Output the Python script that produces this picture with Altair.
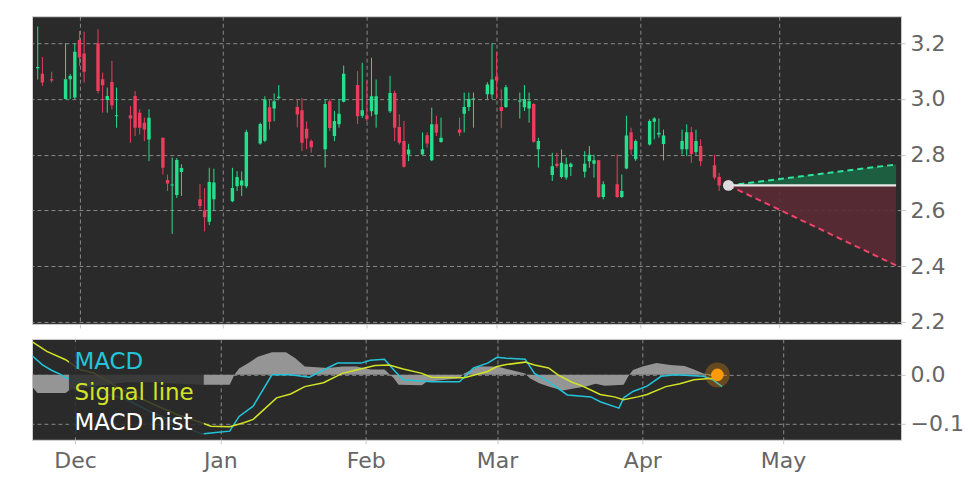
import altair as alt
import pandas as pd

# ---------------- data ----------------
dates = [
    "2022-11-22", "2022-11-23", "2022-11-25", "2022-11-28", "2022-11-29", "2022-11-30",
    "2022-12-01", "2022-12-02", "2022-12-05", "2022-12-06", "2022-12-07", "2022-12-08",
    "2022-12-09", "2022-12-12", "2022-12-13", "2022-12-14", "2022-12-15", "2022-12-16",
    "2022-12-19", "2022-12-20", "2022-12-21", "2022-12-22", "2022-12-23", "2022-12-27",
    "2022-12-28", "2022-12-29", "2022-12-30", "2023-01-03", "2023-01-04", "2023-01-05",
    "2023-01-06", "2023-01-09", "2023-01-10", "2023-01-11", "2023-01-12", "2023-01-13",
    "2023-01-17", "2023-01-18", "2023-01-19", "2023-01-20", "2023-01-23", "2023-01-24",
    "2023-01-25", "2023-01-26", "2023-01-27", "2023-01-30", "2023-01-31", "2023-02-01",
    "2023-02-02", "2023-02-03", "2023-02-06", "2023-02-07", "2023-02-08", "2023-02-09",
    "2023-02-10", "2023-02-13", "2023-02-14", "2023-02-15", "2023-02-16", "2023-02-17",
    "2023-02-21", "2023-02-22", "2023-02-23", "2023-02-24", "2023-02-27", "2023-02-28",
    "2023-03-01", "2023-03-02", "2023-03-03", "2023-03-06", "2023-03-07", "2023-03-08",
    "2023-03-09", "2023-03-10", "2023-03-13", "2023-03-14", "2023-03-15", "2023-03-16",
    "2023-03-17", "2023-03-20", "2023-03-21", "2023-03-22", "2023-03-23", "2023-03-24",
    "2023-03-27", "2023-03-28", "2023-03-29", "2023-03-30", "2023-03-31", "2023-04-03",
    "2023-04-04", "2023-04-05", "2023-04-06", "2023-04-10", "2023-04-11", "2023-04-12",
    "2023-04-13", "2023-04-14", "2023-04-17", "2023-04-18",
]
opens = [
    3.11, 3.091, 3.071, 3.0, 3.071, 3.005,
    3.212, 3.163, 3.2, 3.071, 2.996, 3.061,
    2.938, 2.942, 3.011, 2.951, 2.915, 2.855,
    2.861, 2.709, 2.69, 2.656, 2.738, 2.64,
    2.6, 2.56, 2.64, 2.633, 2.687, 2.69,
    2.687, 2.84, 2.85, 2.97, 2.966, 3.004,
    2.971, 2.96, 2.893, 2.849, 2.82, 2.992,
    2.867, 2.909, 2.99, 3.05, 2.94, 2.941,
    2.956, 2.944, 2.956, 3.022, 2.9, 2.849,
    2.801, 2.801, 2.87, 2.78, 2.909, 2.846,
    2.891, 2.947, 2.971, 2.998, 3.017, 3.016,
    3.081, 2.971, 2.971, 2.99, 2.97, 2.966,
    2.982, 2.82, 2.727, 2.768, 2.72, 2.718,
    2.756, 2.739, 2.777, 2.768, 2.78, 2.648,
    2.694, 2.648, 2.751, 2.881, 2.784, 2.837,
    2.918, 2.873, 2.839, 2.82, 2.82, 2.881,
    2.81, 2.831, 2.762, 2.72,
]
highs = [
    3.26, 3.151, 3.098, 3.2, 3.09, 3.2,
    3.244, 3.242, 3.25, 3.095, 3.041, 3.137,
    3.041, 2.975, 3.029, 2.963, 2.933, 2.963,
    2.861, 2.729, 2.79, 2.788, 2.766, 2.695,
    2.68, 2.753, 2.75, 2.753, 2.741, 2.74,
    2.89, 2.915, 3.01, 3.0, 3.02, 3.05,
    3.0, 3.004, 2.92, 2.855, 3.0, 3.0,
    2.957, 3.0, 3.12, 3.1, 3.13, 3.065,
    3.148, 3.07, 3.083, 3.03, 2.945, 2.921,
    2.839, 2.88, 2.88, 2.969, 2.94, 2.933,
    2.933, 3.023, 3.023, 3.023, 3.06, 3.2,
    3.17, 3.035, 3.05, 3.023, 3.05, 3.023,
    2.985, 2.861, 2.807, 2.807, 2.819, 2.79,
    2.772, 2.813, 2.831, 2.8, 2.782, 2.705,
    2.801, 2.729, 2.94, 2.897, 2.855, 2.927,
    2.935, 2.93, 2.89, 2.89, 2.909, 2.9,
    2.89, 2.855, 2.8, 2.735,
]
lows = [
    3.07, 3.047, 3.059, 3.0, 3.0, 3.0,
    3.119, 3.059, 3.02, 2.951, 2.951, 2.963,
    2.897, 2.843, 2.867, 2.873, 2.849, 2.777,
    2.729, 2.67, 2.516, 2.645, 2.652, 2.605,
    2.525, 2.548, 2.598, 2.63, 2.67, 2.652,
    2.68, 2.836, 2.845, 2.89, 2.92, 3.0,
    2.898, 2.813, 2.82, 2.807, 2.754, 2.885,
    2.849, 2.897, 2.988, 2.91, 2.932, 2.92,
    2.938, 2.897, 2.95, 2.849, 2.837, 2.754,
    2.777, 2.8, 2.825, 2.777, 2.867, 2.843,
    2.867, 2.88, 2.957, 2.897, 3.0, 3.0,
    3.0, 2.895, 2.968, 2.93, 2.957, 2.915,
    2.843, 2.754, 2.706, 2.753, 2.715, 2.71,
    2.724, 2.718, 2.753, 2.718, 2.645, 2.64,
    2.645, 2.645, 2.748, 2.8, 2.778, 2.833,
    2.855, 2.861, 2.78, 2.801, 2.795, 2.771,
    2.8, 2.759, 2.711, 2.67,
]
closes = [
    3.115, 3.059, 3.066, 3.071, 3.083, 3.17,
    3.149, 3.098, 3.029, 3.049, 3.011, 2.978,
    2.942, 2.93, 2.897, 2.897, 2.891, 2.933,
    2.753, 2.697, 2.693, 2.781, 2.752, 2.616,
    2.576, 2.702, 2.7, 2.681, 2.72, 2.708,
    2.882, 2.91, 2.998, 2.918, 2.992, 3.008,
    2.944, 2.843, 2.858, 2.827, 2.982, 2.896,
    2.921, 2.947, 3.091, 2.938, 2.96, 2.927,
    3.01, 3.01, 3.022, 2.897, 2.843, 2.757,
    2.819, 2.82, 2.84, 2.909, 2.879, 2.861,
    2.879, 2.971, 3.0, 3.002, 3.052, 3.07,
    3.066, 2.957, 3.042, 2.995, 3.0, 2.992,
    2.847, 2.849, 2.759, 2.76, 2.771, 2.766,
    2.768, 2.768, 2.8, 2.78, 2.648, 2.694,
    2.648, 2.67, 2.869, 2.819, 2.849, 2.921,
    2.93, 2.879, 2.869, 2.849, 2.881, 2.803,
    2.849, 2.777, 2.718, 2.69,
]

macd_dates = [
    "2022-11-22", "2022-11-24", "2022-11-26", "2022-11-28", "2022-11-29", "2022-12-04",
    "2022-12-08", "2022-12-12", "2022-12-17", "2022-12-23", "2022-12-28", "2022-12-31",
    "2023-01-03", "2023-01-05", "2023-01-08", "2023-01-12", "2023-01-16", "2023-01-20",
    "2023-01-23", "2023-01-26", "2023-01-31", "2023-02-02", "2023-02-05", "2023-02-07",
    "2023-02-09", "2023-02-15", "2023-02-21", "2023-02-24", "2023-02-27", "2023-03-01",
    "2023-03-03", "2023-03-07", "2023-03-09", "2023-03-12", "2023-03-16", "2023-03-21",
    "2023-03-23", "2023-03-27", "2023-03-28", "2023-03-30", "2023-04-02", "2023-04-05",
    "2023-04-08", "2023-04-14", "2023-04-16", "2023-04-18",
]
macd_vals = [
    0.038, 0.021, 0.0095, 0.0006, -0.006, -0.02,
    -0.04, -0.05, -0.075, -0.10, -0.121, -0.118,
    -0.115, -0.085, -0.064, 0.0, 0.0, -0.005,
    0.01, 0.024, 0.024, 0.03, 0.032, 0.01,
    -0.01, -0.014, -0.014, 0.014, 0.024, 0.036,
    0.034, 0.032, 0.003, -0.014, -0.041, -0.045,
    -0.055, -0.068, -0.047, -0.034, -0.023, -0.003,
    0.0, -0.003, -0.01, -0.024,
]

signal_dates = [
    "2022-11-22", "2022-11-25", "2022-11-29", "2022-12-02", "2022-12-05", "2022-12-11",
    "2022-12-17", "2022-12-23", "2022-12-28", "2022-12-30", "2023-01-03", "2023-01-06",
    "2023-01-08", "2023-01-13", "2023-01-16", "2023-01-19", "2023-01-23", "2023-01-27",
    "2023-01-30", "2023-02-03", "2023-02-06", "2023-02-09", "2023-02-13", "2023-02-15",
    "2023-02-22", "2023-02-27", "2023-03-01", "2023-03-03", "2023-03-07", "2023-03-09",
    "2023-03-12", "2023-03-14", "2023-03-17", "2023-03-19", "2023-03-21", "2023-03-23",
    "2023-03-26", "2023-03-28", "2023-03-31", "2023-04-02", "2023-04-06", "2023-04-09",
    "2023-04-12", "2023-04-16", "2023-04-17",
]
signal_vals = [
    0.067, 0.048, 0.031, 0.011, 0.004, -0.03,
    -0.057, -0.082, -0.098, -0.105, -0.106, -0.098,
    -0.091, -0.047, -0.039, -0.024, -0.016, 0.003,
    0.01, 0.019, 0.02, 0.012, 0.003, -0.005,
    -0.006, 0.007, 0.017, 0.021, 0.026, 0.02,
    0.014, 0.0, -0.015, -0.022, -0.031, -0.04,
    -0.045, -0.051, -0.045, -0.04, -0.024, -0.018,
    -0.01, -0.007, -0.006,
]

hist_dates = [
    "2022-11-22", "2022-11-23", "2022-11-29", "2022-11-30", "2022-12-06", "2022-12-12",
    "2022-12-17", "2022-12-23", "2022-12-28", "2023-01-03", "2023-01-04", "2023-01-05",
    "2023-01-07", "2023-01-09", "2023-01-12", "2023-01-15", "2023-01-17", "2023-01-19",
    "2023-01-24", "2023-01-27", "2023-01-30", "2023-02-02", "2023-02-05", "2023-02-07",
    "2023-02-08", "2023-02-13", "2023-02-14", "2023-02-21", "2023-02-22", "2023-02-25",
    "2023-03-01", "2023-03-04", "2023-03-07", "2023-03-08", "2023-03-10", "2023-03-12",
    "2023-03-15", "2023-03-18", "2023-03-20", "2023-03-22", "2023-03-24", "2023-03-28",
    "2023-03-29", "2023-03-30", "2023-04-01", "2023-04-04", "2023-04-07", "2023-04-10",
    "2023-04-12", "2023-04-14", "2023-04-16",
]
hist_vals = [
    -0.026, -0.037, -0.037, -0.03, -0.022, -0.015,
    -0.015, -0.018, -0.02, -0.02, 0.0, 0.013,
    0.024, 0.037, 0.046, 0.046, 0.034, 0.017,
    0.014, 0.017, 0.017, 0.011, 0.011, -0.007,
    -0.02, -0.021, -0.014, -0.007, 0.003, 0.017,
    0.017, 0.01, 0.003, -0.007, -0.017, -0.024,
    -0.032, -0.027, -0.024, -0.018, -0.022, -0.02,
    -0.003, 0.01, 0.017, 0.024, 0.02, 0.018,
    0.011, 0.003, 0.0,
]

forecast_dates = ["2023-04-20", "2023-05-26T04:00:00Z"]
last_close = 2.69
forecast_up = [2.69, 2.765]
forecast_down = [2.69, 2.403]

cross_date = ["2023-04-17"]
cross_val = [0.0]

legend_labels = ["MACD", "Signal line", "MACD hist"]
price_ticks = [2.2, 2.4, 2.6, 2.8, 3.0, 3.2]
macd_ticks = [-0.1, 0.0]

# ---------------- styling ----------------
GREEN = "#24e08c"
RED = "#ec3d5c"
CYAN = "#22c4dc"
YELLOW = "#d2e424"
FONT = "DejaVu Sans"
PLOT_W = 870

month_ticks = [
    alt.DateTime(year=2022, month=12, date=1, utc=True),
    alt.DateTime(year=2023, month=1, date=1, utc=True),
    alt.DateTime(year=2023, month=2, date=1, utc=True),
    alt.DateTime(year=2023, month=3, date=1, utc=True),
    alt.DateTime(year=2023, month=4, date=1, utc=True),
    alt.DateTime(year=2023, month=5, date=1, utc=True),
]
x_domain = [
    alt.DateTime(year=2022, month=11, date=21, hours=20, utc=True),
    alt.DateTime(year=2023, month=5, date=26, hours=4, utc=True),
]


def x_enc(show_labels):
    return alt.X(
        "date:T",
        scale=alt.Scale(type="utc", domain=x_domain),
        axis=alt.Axis(values=month_ticks, labels=show_labels, format="%b", grid=True,
                      ticks=True, tickSize=4, title=None, labelFlush=False,
                      labelPadding=7 if show_labels else 0),
        title=None,
    )


top_y_scale = alt.Scale(domain=[2.193, 3.297], zero=False, nice=False)
top_y_axis = alt.Axis(orient="right", values=price_ticks, format=".1f", title=None, grid=True,
                      tickSize=4, labelPadding=5)


def y_top(field):
    return alt.Y(field, type="quantitative", scale=top_y_scale, axis=top_y_axis, title=None)


bot_y_scale = alt.Scale(domain=[-0.1327, 0.0735], zero=False, nice=False)
bot_y_axis = alt.Axis(orient="right", values=macd_ticks, format=".1f", title=None, grid=True,
                      tickSize=4, labelPadding=5)


def y_bot(field):
    return alt.Y(field, type="quantitative", scale=bot_y_scale, axis=bot_y_axis, title=None)


candles = pd.DataFrame({"date": dates, "open": opens, "high": highs, "low": lows, "close": closes})
candle_color = alt.when(alt.datum.close >= alt.datum.open).then(alt.value(GREEN)).otherwise(alt.value(RED))

wicks = alt.Chart(candles).mark_rule(strokeWidth=1, clip=True).encode(
    x=x_enc(False), y=y_top("low"), y2="high", color=candle_color)
bodies = alt.Chart(candles).mark_bar(width=3.4, clip=True).encode(
    x=x_enc(False), y=y_top("open"), y2="close", color=candle_color)

fc_up = pd.DataFrame({"date": forecast_dates, "y": forecast_up, "base": [last_close, last_close]})
fc_dn = pd.DataFrame({"date": forecast_dates, "y": forecast_down, "base": [last_close, last_close]})
fc_flat = pd.DataFrame({"date": forecast_dates, "y": [last_close, last_close]})
fc_dot = pd.DataFrame({"date": forecast_dates[:1], "y": [last_close]})

area_up = alt.Chart(fc_up).mark_area(color="#1b6644", opacity=0.85, clip=True).encode(
    x=x_enc(False), y=y_top("y"), y2="base")
area_dn = alt.Chart(fc_dn).mark_area(color="#5a2a33", opacity=0.9, clip=True).encode(
    x=x_enc(False), y=y_top("y"), y2="base")
line_up = alt.Chart(fc_up).mark_line(color="#2ee39c", strokeWidth=2, strokeDash=[6, 4], clip=True).encode(
    x=x_enc(False), y=y_top("y"))
line_dn = alt.Chart(fc_dn).mark_line(color="#f0426a", strokeWidth=2, strokeDash=[6, 4], clip=True).encode(
    x=x_enc(False), y=y_top("y"))
line_flat = alt.Chart(fc_flat).mark_line(color="#e8e8e8", strokeWidth=2.2, clip=True).encode(
    x=x_enc(False), y=y_top("y"))
dot = alt.Chart(fc_dot).mark_circle(color="#dcdcdc", size=120, opacity=1).encode(
    x=x_enc(False), y=y_top("y"))

top = alt.layer(area_up, area_dn, wicks, bodies, line_up, line_dn, line_flat, dot).properties(
    width=PLOT_W, height=308)

# ---------- MACD panel ----------
hist_df = pd.DataFrame({"date": hist_dates, "v": hist_vals})
macd_df = pd.DataFrame({"date": macd_dates, "v": macd_vals})
sig_df = pd.DataFrame({"date": signal_dates, "v": signal_vals})
cross_df = pd.DataFrame({"date": cross_date, "v": cross_val})

hist_area = alt.Chart(hist_df).mark_area(color="#959595", opacity=1, clip=True).encode(
    x=x_enc(True), y=y_bot("v"), y2=alt.datum(0))
macd_line = alt.Chart(macd_df).mark_line(color=CYAN, strokeWidth=1.5, clip=True).encode(
    x=x_enc(True), y=y_bot("v"))
sig_line = alt.Chart(sig_df).mark_line(color=YELLOW, strokeWidth=1.5, clip=True).encode(
    x=x_enc(True), y=y_bot("v"))

legend_box = alt.Chart(pd.DataFrame({"k": [0]})).mark_rect(color="#2a2a2a", opacity=0.85).encode(
    x=alt.value(37), x2=alt.value(172), y=alt.value(3), y2=alt.value(98))

legend_colors = [CYAN, YELLOW, "#ffffff"]
legend_y = [29.7, 60.7, 90.7]
legend_layers = []
for lab, col, yy in zip(legend_labels, legend_colors, legend_y):
    legend_layers.append(
        alt.Chart(pd.DataFrame({"label": [lab]})).mark_text(
            align="left", baseline="alphabetic", font=FONT, fontSize=23, color=col
        ).encode(text="label:N", x=alt.value(42.5), y=alt.value(yy))
    )

halo = alt.Chart(cross_df).mark_circle(color="#ff9a0a", size=620, opacity=0.28).encode(
    x=x_enc(True), y=y_bot("v"))
cross_dot = alt.Chart(cross_df).mark_circle(color="#ff9a0a", size=160, opacity=1).encode(
    x=x_enc(True), y=y_bot("v"))

bottom = alt.layer(hist_area, macd_line, sig_line, legend_box, *legend_layers, halo, cross_dot).properties(
    width=PLOT_W, height=101)

chart = alt.vconcat(top, bottom, spacing=4).properties(
    padding={"left": 23, "top": 7, "right": 0, "bottom": 0},
    background="white",
).configure_view(
    fill="#2a2a2a", stroke="#d2d2d2", strokeWidth=1
).configure_axis(
    labelFont=FONT, labelFontSize=22, labelColor="#666666",
    tickColor="#c8c8c8", tickWidth=1,
    gridColor="#b8b8b8", gridDash=[4, 3], gridOpacity=0.75, gridWidth=0.9,
    domain=False,
)

chart.save("out.html", embed_options={"renderer": "svg", "actions": False})
